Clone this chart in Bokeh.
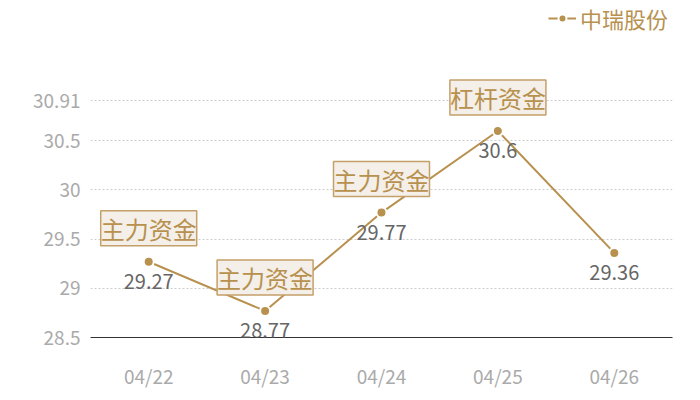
from bokeh.plotting import figure
from bokeh.models import ColumnDataSource, FactorRange, Range1d, FixedTicker, LabelSet, Legend, LegendItem
from bokeh.embed import file_html
from bokeh.resources import INLINE
from bokeh.core.properties import value

dates = ["04/22", "04/23", "04/24", "04/25", "04/26"]
prices = [29.27, 28.77, 29.77, 30.6, 29.36]
tags = ["主力资金", "主力资金", "主力资金", "杠杆资金", ""]
y_ticks = [28.5, 29, 29.5, 30, 30.5, 30.91]
series_name = "中瑞股份"

BROWN = "#b8914f"
FONT = "Noto Sans CJK SC"

# frame spans from top (2px) to x-axis (337px); ticks region 28.5..30.91 covers 237px
y_min, y_top_tick = 28.5, 30.91
y_end = y_min + (y_top_tick - y_min) * 335 / 237

p = figure(width=692, height=392, output_backend="svg", toolbar_location=None,
           x_range=FactorRange(factors=dates, range_padding=0),
           y_range=Range1d(y_min, y_end),
           min_border_left=90, min_border_right=20, min_border_top=2, min_border_bottom=55)
p.outline_line_color = None
p.background_fill_color = "white"

src = ColumnDataSource(dict(x=dates, y=prices, lab=[str(v) for v in prices], tag=tags))
ln = p.line("x", "y", source=src, line_color=BROWN, line_width=2)
pts = p.scatter("x", "y", source=src, size=10, fill_color=BROWN, line_color="white", line_width=2)

vals = LabelSet(x="x", y="y", text="lab", source=src, y_offset=-12, text_align="center",
                text_baseline="top", text_color="#666666", text_font_size="20px",
                text_font=value(FONT))
p.add_layout(vals)

tsrc = ColumnDataSource(dict(x=dates[:4], y=prices[:4], tag=tags[:4]))
boxes = LabelSet(x="x", y="y", text="tag", source=tsrc, y_offset=16, text_align="center",
                 text_baseline="bottom", text_color=BROWN, text_font_size="24px",
                 text_font=value(FONT), background_fill_color="#f4efe8",
                 border_line_color="#c4a06a", border_line_width=1.5)
p.add_layout(boxes)

p.yaxis.ticker = FixedTicker(ticks=y_ticks)
p.yaxis.axis_line_color = None
p.yaxis.major_tick_line_color = None
p.yaxis.minor_tick_line_color = None
p.yaxis.major_tick_out = 0
p.yaxis.major_tick_in = 0
p.yaxis.major_label_text_color = "#aaaaaa"
p.yaxis.major_label_text_font_size = "19px"
p.yaxis.major_label_text_font = FONT
p.yaxis.major_label_standoff = 10

p.xaxis.axis_line_color = "#333333"
p.xaxis.axis_line_width = 1
p.xaxis.major_tick_line_color = None
p.xaxis.minor_tick_line_color = None
p.xaxis.major_tick_out = 0
p.xaxis.major_tick_in = 0
p.xaxis.major_label_text_color = "#aaaaaa"
p.xaxis.major_label_text_font_size = "19px"
p.xaxis.major_label_text_font = FONT
p.xaxis.major_label_standoff = 24

p.xgrid.grid_line_color = None
p.ygrid.ticker = FixedTicker(ticks=y_ticks)
p.ygrid.grid_line_color = "#cccccc"
p.ygrid.grid_line_dash = "2 2"

legend = Legend(items=[LegendItem(label=series_name, renderers=[ln, pts])],
                location=(458, 303), orientation="horizontal",
                label_text_color=BROWN, label_text_font_size="22px", label_text_font=FONT,
                border_line_color=None, background_fill_alpha=0,
                glyph_width=28, glyph_height=20, label_standoff=4, padding=0, margin=0)
p.add_layout(legend)

open("out.html", "w").write(file_html(p, INLINE))
